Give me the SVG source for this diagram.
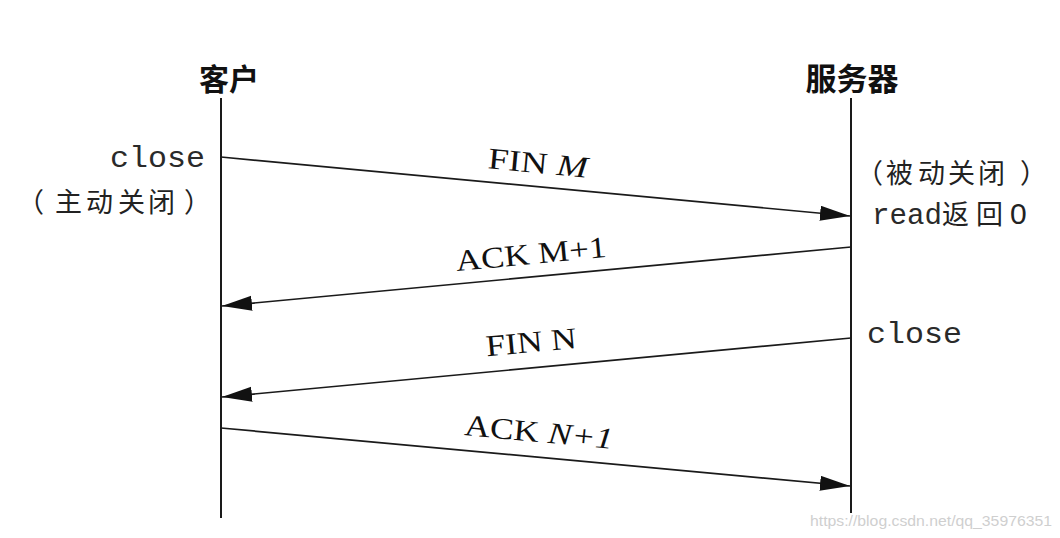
<svg xmlns="http://www.w3.org/2000/svg" width="1060" height="538" viewBox="0 0 1060 538">
  <style>
    .life { stroke: #1a1a1a; stroke-width: 2; fill: none; }
    .msg { stroke: #1a1a1a; stroke-width: 1.7; fill: none; marker-end: url(#ah); }
    .hdr { font-family: "Noto Sans CJK SC", sans-serif; font-weight: bold; fill: #111; text-anchor: middle; }
    .mono { font-family: "Liberation Mono", monospace; font-size: 29px; fill: #2a2a2a; }
    .cjk { font-family: "Noto Sans CJK SC", sans-serif; font-size: 27px; fill: #222; }
    .lbl { font-family: "Liberation Serif", serif; font-size: 30px; fill: #111; text-anchor: middle; }
    .wm { font-family: "Liberation Sans", sans-serif; font-size: 15px; fill: #cfcfcf; }
  </style>
  <defs>
    <marker id="ah" markerUnits="userSpaceOnUse" markerWidth="32" markerHeight="16" refX="30" refY="7.5" orient="auto">
      <path d="M0,0 L30,7.5 L0,15 Z" fill="#111"/>
    </marker>
  </defs>
  <rect width="1060" height="538" fill="#ffffff"/>

  <g id="client">
    <text class="hdr" x="229" y="90" font-size="30">客户</text>
    <line class="life" x1="221" y1="98" x2="221" y2="518"/>
    <text class="mono" x="110" y="167" textLength="95" lengthAdjust="spacingAndGlyphs">close</text>
    <text class="cjk" x="17 55 86 118 148 184" y="212">（主动关闭）</text>
  </g>

  <g id="server">
    <text class="hdr" x="852" y="90" font-size="31">服务器</text>
    <line class="life" x1="851" y1="98" x2="851" y2="513"/>
    <text class="cjk" x="856 886 918 948 978 1020" y="183">（被动关闭）</text>
    <text y="224"><tspan class="mono" x="872" textLength="70" lengthAdjust="spacingAndGlyphs">read</tspan><tspan class="cjk" x="942">返</tspan><tspan class="cjk" x="976">回</tspan><tspan x="1010" font-family="Liberation Sans, sans-serif" font-size="30" fill="#222">0</tspan></text>
    <text class="mono" x="867" y="343" textLength="95" lengthAdjust="spacingAndGlyphs">close</text>
  </g>

  <g id="connectors">
    <line class="msg" x1="221" y1="157" x2="850" y2="216"/>
    <line class="msg" x1="851" y1="247" x2="222" y2="306"/>
    <line class="msg" x1="851" y1="338" x2="222" y2="397"/>
    <line class="msg" x1="221" y1="428" x2="850" y2="486"/>
  </g>

  <g id="labels">
    <text class="lbl" transform="translate(537,173) rotate(5.35)" textLength="100" lengthAdjust="spacingAndGlyphs">FIN <tspan font-style="italic">M</tspan></text>
    <text class="lbl" transform="translate(532,264) rotate(-5.35)" textLength="151" lengthAdjust="spacingAndGlyphs">ACK M+1</text>
    <text class="lbl" transform="translate(532,352) rotate(-5.35)" textLength="91" lengthAdjust="spacingAndGlyphs">FIN N</text>
    <text class="lbl" transform="translate(538,442) rotate(5.35)" textLength="149" lengthAdjust="spacingAndGlyphs">ACK <tspan font-style="italic">N+1</tspan></text>
  </g>

  <text class="wm" x="810" y="526" textLength="242" lengthAdjust="spacingAndGlyphs">https://blog.csdn.net/qq_35976351</text>
</svg>
